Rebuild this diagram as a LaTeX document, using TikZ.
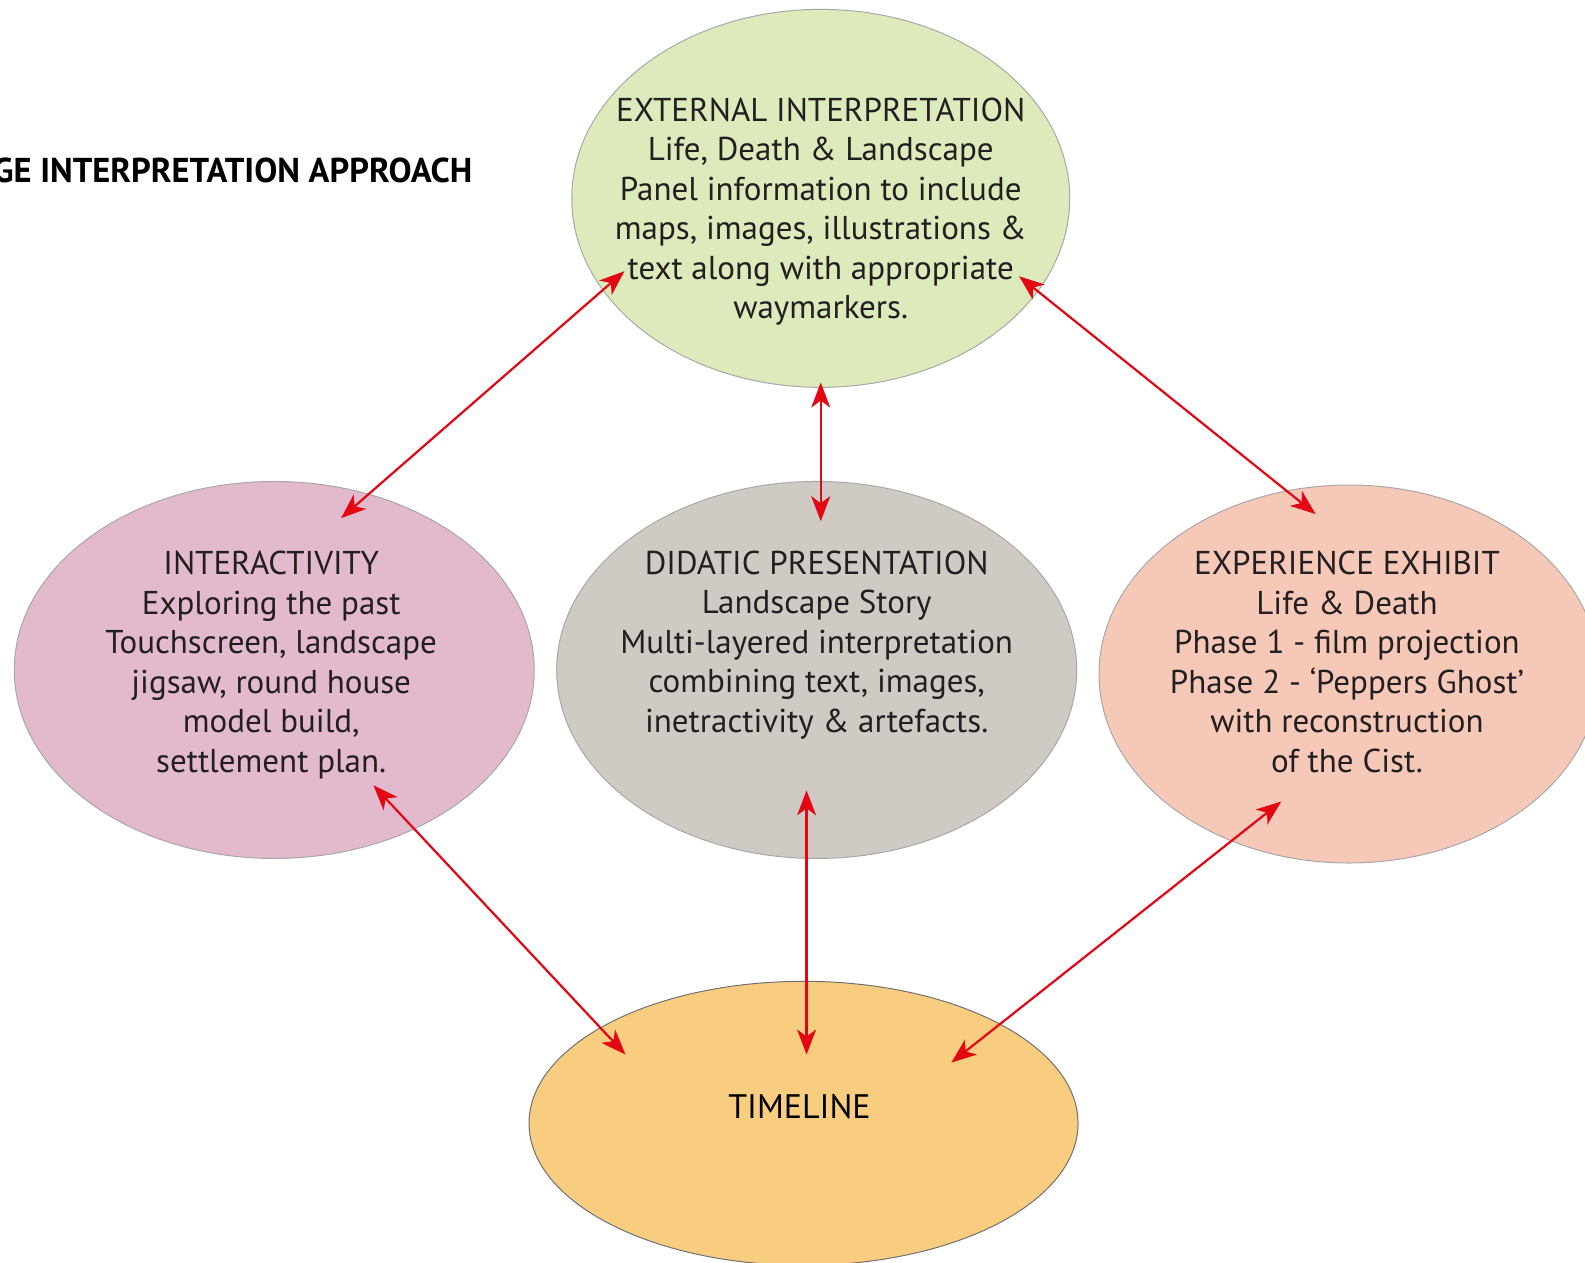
\documentclass[tikz,border=0pt]{standalone}
\usepackage{fontspec}
\setmainfont{PT Sans}
\usetikzlibrary{shapes.geometric,arrows.meta}
\definecolor{extfill}{HTML}{DDEABB}
\definecolor{intfill}{HTML}{E3B9CD}
\definecolor{didfill}{HTML}{D0CAC5}
\definecolor{expfill}{HTML}{F6C8B8}
\definecolor{tlfill}{HTML}{F8CD80}
\definecolor{edgegray}{HTML}{A8A8A8}
\definecolor{tledge}{HTML}{707070}
\definecolor{arrred}{HTML}{E30613}
\definecolor{txtcol}{HTML}{231F20}
\tikzset{
  oval/.style={ellipse, draw=edgegray, line width=1pt, inner sep=0pt},
  bodytxt/.style={align=center, text=txtcol, font=\fontsize{33}{39.5}\selectfont, inner sep=0pt},
  link/.style={draw=arrred, line width=2.2pt, {Stealth[length=25pt,width=19pt,inset=7pt]}-{Stealth[length=25pt,width=19pt,inset=7pt]}}
}
\begin{document}
\begin{tikzpicture}[x=1.012pt,y=-1.012pt]
\useasboundingbox (0,0) rectangle (1566.2,1248);
% ellipses
\node[oval, fill=extfill, minimum width=498pt, minimum height=378pt] (ext) at (811,196) {};
\node[oval, fill=intfill, minimum width=520pt, minimum height=377pt] (int) at (271,662) {};
\node[oval, fill=didfill, minimum width=520pt, minimum height=377pt] (did) at (807,662) {};
\node[oval, fill=expfill, minimum width=500pt, minimum height=378pt] (exp) at (1333,666) {};
\node[oval, draw=tledge, fill=tlfill, minimum width=549pt, minimum height=284pt] (tl) at (794,1110) {};
% texts
\node[bodytxt] (extT) at (811,209) {EXTERNAL INTERPRETATION\\Life, Death \& Landscape\\Panel information to include\\maps, images, illustrations \&\\text along with appropriate\\waymarkers.};
\node[bodytxt] (intT) at (268,657) {INTERACTIVITY\\Exploring the past\\Touchscreen, landscape\\jigsaw, round house\\model build,\\settlement plan.};
\node[bodytxt] (didT) at (807,637) {DIDATIC PRESENTATION\\Landscape Story\\Multi-layered interpretation\\combining text, images,\\inetractivity \& artefacts.};
\node[bodytxt] (expT) at (1331,654) {EXPERIENCE EXHIBIT\\Life \& Death\\Phase 1 - film projection\\Phase 2 - ‘Peppers Ghost’\\with reconstruction\\of the Cist.};
\node[inner sep=0pt, text=black, font=\fontsize{34}{40}\selectfont] (tlT) at (790,1093) {TIMELINE};
\node[inner sep=0pt, anchor=base east, text=black, font=\bfseries\fontsize{34.5}{40}\selectfont] (title) at (467,180) {GE INTERPRETATION APPROACH};
% arrow end points
\coordinate (e1) at (617,268);
\coordinate (i1) at (337,512);
\coordinate (e2) at (811,378);
\coordinate (d1) at (811,515);
\coordinate (e3) at (1007,273);
\coordinate (x1) at (1300,508);
\coordinate (i2) at (369,776);
\coordinate (t1) at (618,1042);
\coordinate (d2) at (797,781);
\coordinate (t2) at (797,1042);
\coordinate (x2) at (1266,792);
\coordinate (t3) at (940,1050);
\draw[link] (e1) -- (i1);
\draw[link] (e2) -- (d1);
\draw[link] (e3) -- (x1);
\draw[link] (i2) -- (t1);
\draw[link] (d2) -- (t2);
\draw[link] (x2) -- (t3);
\end{tikzpicture}
\end{document}
